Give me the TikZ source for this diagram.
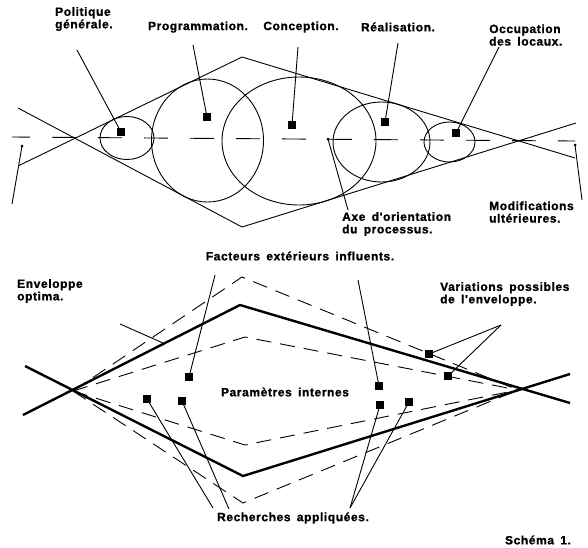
\documentclass[tikz,border=0pt]{standalone}
\usepackage{fontspec}
\setmainfont{Liberation Sans}
\newfontfamily\labfont[LetterSpace=5,WordSpace=1.6,FakeBold=1.2]{Liberation Sans}
\begin{document}
\begin{tikzpicture}[x=1pt,y=-1pt]
\tikzset{
  lab/.style={font=\labfont\bfseries\fontsize{12}{12.5}\selectfont, align=left, inner sep=0pt},
  tline/.style={line width=0.9pt},
  ptr/.style={line width=0.9pt},
  mk/.style={rectangle, fill=black, draw=none, minimum size=7.5pt, inner sep=0pt},
  env/.style={line width=2.4pt, line join=miter},
  denv/.style={line width=0.9pt, dash pattern=on 15pt off 9pt},
  axisdash/.style={line width=0.9pt, dash pattern=on 24pt off 22pt, dash phase=6pt},
  dotmark/.style={circle, fill=black, inner sep=0pt, minimum size=3pt},
}
\useasboundingbox (0,0) rectangle (588,547);
\fill[white] (0,0) rectangle (588,547);

% ---------- TOP ----------
% axis
\coordinate (axL) at (12,137);
\coordinate (axR) at (575,141);
\draw[axisdash] (axL) -- (axR);

% envelope
\coordinate (tA) at (18,166);
\coordinate (tTop) at (242,57);
\coordinate (tB) at (575,158);
\coordinate (tC) at (18,108);
\coordinate (tBot) at (242,227);
\coordinate (tD) at (576,123);
\draw[tline] (tA) -- (tTop) -- (tB);
\draw[tline] (tC) -- (tBot) -- (tD);

% circles
\draw[tline] (127,138) ellipse [x radius=27, y radius=21.5];
\draw[tline] (207.5,140.5) ellipse [x radius=56, y radius=61.5];
\draw[tline] (299,141) ellipse [x radius=77, y radius=64];
\draw[tline] (381.5,142) ellipse [x radius=48.5, y radius=40];
\draw[tline] (449.5,142) ellipse [x radius=25.5, y radius=20];

% markers
\node[mk] (m1) at (121,132) {};
\node[mk] (m2) at (207,117) {};
\node[mk] (m3) at (292,125) {};
\node[mk] (m4) at (385,122) {};
\node[mk] (m5) at (456,133) {};

% labels
\node[lab, anchor=west] (lPol) at (55,19) {Politique\\générale.};
\node[lab] (lProg) at (198,27) {Programmation.};
\node[lab] (lConc) at (301,27) {Conception.};
\node[lab] (lReal) at (398,27) {Réalisation.};
\node[lab, anchor=west] (lOcc) at (489,35) {Occupation\\des locaux.};
\node[lab, anchor=west] (lAxe) at (342,224) {Axe d'orientation\\du processus.};
\node[lab, anchor=west] (lMod) at (489,212) {Modifications\\ultérieures.};

% pointers
\coordinate (p1) at (77,50);
\coordinate (p2) at (193,45);
\coordinate (p3) at (298,47);
\coordinate (p4) at (398,43);
\coordinate (p5) at (499,47);
\draw[ptr] (p1) -- (m1.center);
\draw[ptr] (p2) -- (m2.center);
\draw[ptr] (p3) -- (m3.center);
\draw[ptr] (p4) -- (m4.center);
\draw[ptr] (p5) -- (m5.center);

\node[dotmark] (dL) at (22,146) {};
\coordinate (dLe) at (12,204);
\draw[ptr] (dL.center) -- (dLe);
\node[dotmark] (dR) at (575,145) {};
\coordinate (dRe) at (582,200);
\draw[ptr] (dR.center) -- (dRe);
\node[dotmark] (dA) at (328,139) {};
\coordinate (dAe) at (348,210);
\draw[ptr] (dA.center) -- (dAe);

% ---------- BOTTOM ----------
\coordinate (bX) at (73,391);
\coordinate (bY) at (518,390);
% dashed envelopes
\draw[denv] (bX) -- (242,277) -- (bY);
\draw[denv] (bX) -- (243,503) -- (bY);
\draw[denv] (bX) -- (245,337) -- (bY);
\draw[denv] (bX) -- (245,445) -- (bY);
% thick envelope
\draw[env] (23,415) -- (240,305) -- (570,403);
\draw[env] (25,366) -- (243,476) -- (570,374);
% short thin line
\coordinate (sl1) at (120,324);
\coordinate (sl2) at (163,343);
\draw[ptr] (sl1) -- (sl2);

% markers
\node[mk] (f1) at (189,377) {};
\node[mk] (f2) at (379,386) {};
\node[mk] (r1) at (147,399) {};
\node[mk] (r2) at (182,401) {};
\node[mk] (r3) at (380,405) {};
\node[mk] (r4) at (409,402) {};
\node[mk] (v1) at (429,354) {};
\node[mk] (v2) at (448,376) {};

% labels
\node[lab] (lFac) at (300,256) {Facteurs extérieurs influents.};
\node[lab, anchor=west] (lEnv) at (17,291) {Enveloppe\\optima.};
\node[lab, anchor=west] (lVar) at (440,294) {Variations possibles\\de l'enveloppe.};
\node[lab] (lPar) at (285,392) {Paramètres internes};
\node[lab] (lRec) at (293,518) {Recherches appliquées.};
\node[lab] (lSch) at (538,540) {Schéma 1.};

% pointers
\coordinate (fp1) at (215,275);
\coordinate (fp2) at (358,280);
\draw[ptr] (fp1) -- (f1.center);
\draw[ptr] (fp2) -- (f2.center);
\coordinate (rp1) at (213,508);
\coordinate (rp2) at (229,509);
\coordinate (rp3) at (350,508);
\draw[ptr] (rp1) -- (r1.center);
\draw[ptr] (rp2) -- (r2.center);
\draw[ptr] (rp3) -- (r3.center);
\draw[ptr] (rp3) -- (r4.center);
\coordinate (vp) at (501,325);
\draw[ptr] (vp) -- (v1.center);
\draw[ptr] (vp) -- (v2.center);
\end{tikzpicture}
\end{document}
